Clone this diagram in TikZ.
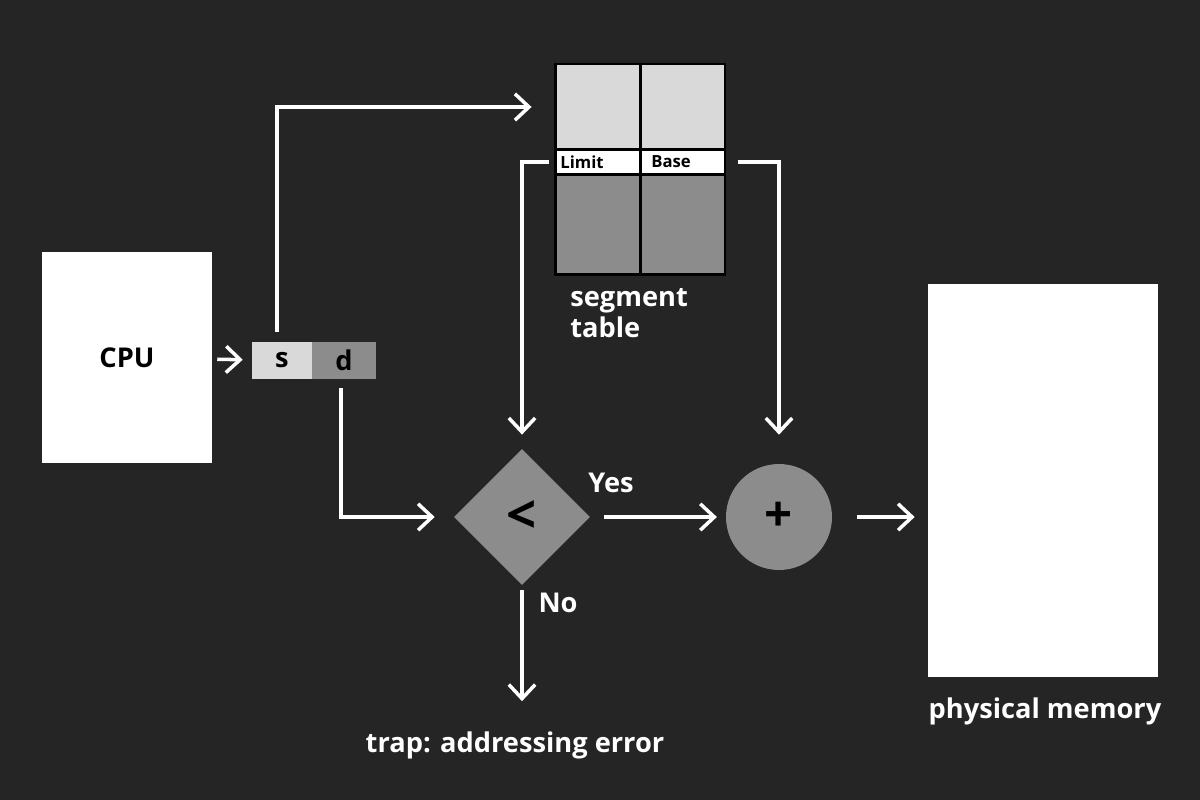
\documentclass[tikz,border=0pt]{standalone}
\usepackage{fontspec}
\setmainfont{Open Sans}
\usepackage{tikz}
\usetikzlibrary{shapes.geometric,arrows.meta,positioning}

\definecolor{BG}{HTML}{252525}
\definecolor{Light}{HTML}{D9D9D9}
\definecolor{Mid}{HTML}{8C8C8C}

\begin{document}
\begin{tikzpicture}[x=0.02cm, y=-0.02cm, font=\bfseries\fontsize{15.5}{18}\selectfont]
			\tikzstyle{Box}		= [rectangle, fill=white, text=black, inner sep=0pt]
			\tikzstyle{Cell}	= [rectangle, draw=black, line width=1.7pt, minimum width=1.7cm, inner sep=0pt]
			\tikzstyle{Tag}		= [text=black, font=\bfseries\fontsize{9.5}{11}\selectfont, inner sep=0pt, anchor=west]
			\tikzstyle{Label}	= [text=white, inner sep=0pt]
			\tikzstyle{Wire}	= [draw=white, line width=2pt, -{Straight Barb[length=8pt,width=15pt]}]

			\useasboundingbox [fill=BG] (0,0) rectangle (1200,800);

			% cpu and logical address
			\node (cpu) at (127,357.5) [Box, minimum width=3.4cm, minimum height=4.22cm] {CPU};
			\node (s) at (282,360.5) [Box, fill=Light, minimum width=1.2cm, minimum height=0.74cm] {s};
			\node (d) at (344,360.5) [Box, fill=Mid, minimum width=1.28cm, minimum height=0.74cm] {d};

			% segment table
			\node (t1) at (597.5,107) [Cell, fill=Light, minimum height=1.72cm] {};
			\node (t2) at (682.5,107) [Cell, fill=Light, minimum height=1.72cm] {};
			\node (limit) at (597.5,162) [Cell, fill=white, minimum height=0.48cm] {};
			\node (base) at (682.5,162) [Cell, fill=white, minimum height=0.48cm] {};
			\node (t5) at (597.5,224.5) [Cell, fill=Mid, minimum height=2.02cm] {};
			\node (t6) at (682.5,224.5) [Cell, fill=Mid, minimum height=2.02cm] {};
			\node (limtxt) at (560,162) [Tag] {Limit};
			\node (basetxt) at (651,162) [Tag] {Base};
			\node (seg) at (570,313) [Label, anchor=west, align=left] {segment\\table};

			% check and add
			\node (lt) at (522,517) [diamond, fill=Mid, inner sep=0pt, minimum width=2.72cm, minimum height=2.72cm, font=\bfseries\fontsize{30}{30}\selectfont] {<};
			\node (plus) at (779,517) [circle, fill=Mid, inner sep=0pt, minimum size=2.12cm, font=\bfseries\fontsize{28}{28}\selectfont] {+};
			\node (mem) at (1043,480.5) [Box, minimum width=4.6cm, minimum height=7.86cm] {};

			\node (yes) at (611,483) [Label] {Yes};
			\node (no) at (558,603) [Label] {No};
			\node (trap) at (515,745) [Label] {trap: addressing error};
			\node (phys) at (1045,711) [Label] {physical memory};

			\draw [Wire, shorten <=2.8pt, shorten >=5.1pt] (cpu) to (s);
			\draw [Wire, shorten <=5.7pt, shorten >=12.5pt] ([xshift=-0.1cm]s.north) |- (t1.west);
			\draw [Wire, shorten <=2.8pt, shorten >=8pt] (limit.west) -| (lt.north);
			\draw [Wire, shorten <=6.8pt, shorten >=16.5pt] (base.east) -| (plus.north);
			\draw [Wire, shorten <=5pt, shorten >=10.8pt] ([xshift=-0.06cm]d.south) |- (lt.west);
			\draw [Wire, shorten <=8pt, shorten >=5pt] (lt) to (plus);
			\draw [Wire, shorten <=14pt, shorten >=7.4pt] (plus) to (plus -| mem.west);
			\draw [Wire, shorten <=2.8pt] (lt.south) to ([yshift=17pt]trap.north -| lt.south);
\end{tikzpicture}
\end{document}
